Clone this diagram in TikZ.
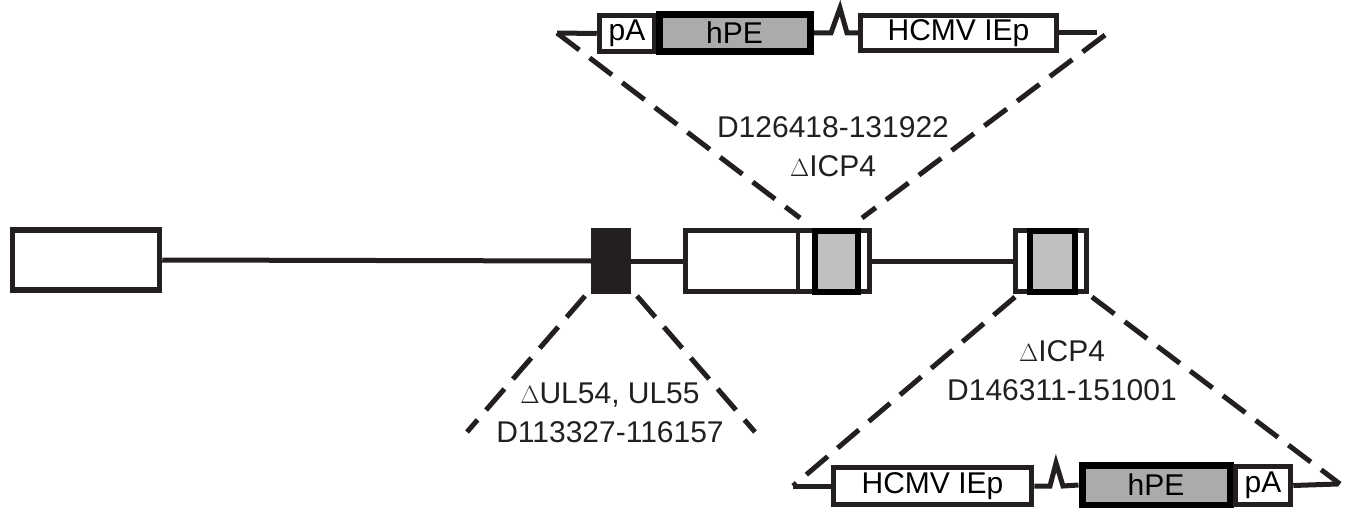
\documentclass[tikz,border=0pt]{standalone}
\usepackage{xcolor}
\usepackage{fontspec}
\setmainfont{Liberation Sans}
\usepackage{tikz}
\usetikzlibrary{positioning, calc}
\definecolor{HSVInk}{RGB}{35, 31, 32}
\definecolor{HSVGrey}{RGB}{192, 192, 192}
\definecolor{HSVDarkGrey}{RGB}{171, 171, 171}

\begin{document}
\begin{tikzpicture}[x=1pt, y=-1pt,
    genebox/.style={draw=HSVInk, line width=5.5pt, fill=white, inner sep=0pt},
    pebox/.style={draw=black, line width=7pt, fill=HSVDarkGrey, inner sep=0pt},
    icpbox/.style={draw=black, line width=6pt, fill=HSVGrey, inner sep=0pt},
    spine/.style={draw=HSVInk, line width=5pt},
    cut/.style={draw=HSVInk, line width=5pt, dash pattern=on 28pt off 13pt},
    lbl/.style={font=\fontsize{30}{39}\selectfont, text=HSVInk, align=center, inner sep=0pt}]
  \useasboundingbox (0,0) rectangle (1350,508);

  % genome
  \node[genebox, minimum width=147pt, minimum height=60pt] (ltr) at (86,260) {};
  \node[fill=HSVInk, inner sep=0pt, minimum width=40pt, minimum height=66pt] (ul) at (611,261) {};
  \node[genebox, minimum width=184pt, minimum height=61pt] (irl) at (777.5,261) {};
  \draw[HSVInk, line width=4.5pt] (798,231) -- (798,291);
  \node[icpbox, minimum width=43pt, minimum height=61pt] (icpA) at (836,261) {};
  \node[genebox, minimum width=71pt, minimum height=61pt] (irs) at (1051,261) {};
  \node[icpbox, minimum width=45pt, minimum height=61pt] (icpB) at (1052,261) {};
  \draw[spine] (ltr.east) -- (ul.west);
  \draw[spine] (ul.east) -- (irl.west);
  \draw[spine] (irl.east) -- (irs.west);

  % insert in ICP4 (IRS)
  \node[genebox, minimum width=55pt, minimum height=36pt, font=\fontsize{30}{36}\selectfont] (tpA) at (627,33.5) {pA};
  \node[pebox, minimum width=151pt, minimum height=37pt, font=\fontsize{30}{36}\selectfont] (tPE) at (734.5,33) {hPE};
  \node[genebox, minimum width=196pt, minimum height=35pt, font=\fontsize{30}{36}\selectfont] (tHC) at (958.5,33) {HCMV IEp};
  \coordinate (tl) at (557,33);
  \coordinate (tr) at (1097,33);
  \draw[spine] (tl) -- (tpA.west);
  \draw[spine] (tPE.east) -- (831,33) -- (840,8) -- (847,33) -- (tHC.west);
  \draw[spine] (tHC.east) -- (tr);

  % insert in ICP4 (TRS)
  \node[genebox, minimum width=198pt, minimum height=37pt, font=\fontsize{30}{36}\selectfont] (bHC) at (932.5,486) {HCMV IEp};
  \node[pebox, minimum width=148pt, minimum height=40pt, font=\fontsize{30}{36}\selectfont] (bPE) at (1156,485) {hPE};
  \node[genebox, minimum width=55pt, minimum height=38pt, font=\fontsize{30}{36}\selectfont] (bpA) at (1263,485.5) {pA};
  \coordinate (bl) at (793,486);
  \coordinate (br) at (1338,484);
  \draw[spine] (bl) -- (bHC.west);
  \draw[spine] (bHC.east) -- (1050,486) -- (1056,463) -- (1063,486) -- (bPE.west);
  \draw[spine] (bpA.east) -- (br);

  % deletions
  \coordinate (ulL) at (467,432);
  \coordinate (ulR) at (755,432);
  \draw[cut] (585,296) -- (ulL);
  \draw[cut] (637,296) -- (ulR);
  \draw[cut] (tl) -- (800,218);
  \draw[cut] (1105,35) -- (862,218);
  \draw[cut] (1015,297) -- (bl);
  \draw[cut] (1092,297) -- (1340,484);

  \node[lbl] (topLbl) at (833,147) {D126418-131922\\$\Delta$ICP4};
  \node[lbl] (ulLbl) at (610,412.5) {$\Delta$UL54, UL55\\D113327-116157};
  \node[lbl] (botLbl) at (1062,371) {$\Delta$ICP4\\D146311-151001};
\end{tikzpicture}
\end{document}
